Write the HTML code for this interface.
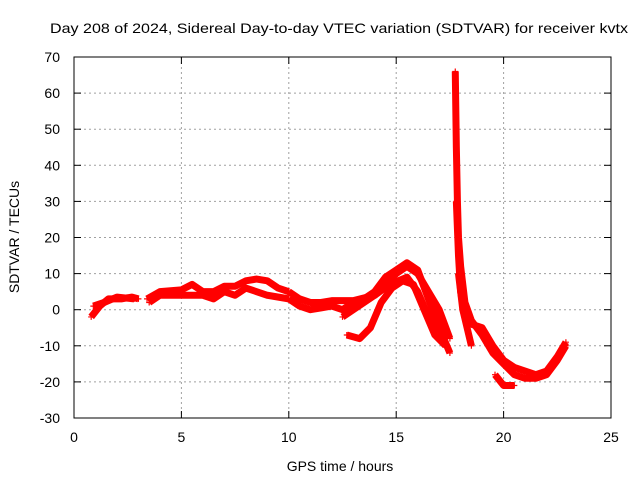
<!DOCTYPE html>
<html><head><meta charset="utf-8"><style>
body{margin:0;background:#fff}
svg text{font-family:"Liberation Sans",sans-serif;font-size:14px;fill:#000}
</style></head><body>
<svg id="c" width="640" height="480">
<text x="50" y="33" textLength="578" lengthAdjust="spacingAndGlyphs">Day 208 of 2024, Sidereal Day-to-day VTEC variation (SDTVAR) for receiver kvtx</text>
<text x="340" y="471" text-anchor="middle">GPS time / hours</text>
<text transform="translate(19,237) rotate(-90)" text-anchor="middle">SDTVAR / TECUs</text>
<g id="grid"></g><g id="marks"></g>
<rect x="74" y="57" width="537" height="361" fill="none" stroke="#000"/>
</svg>
<script>
const xTicks=[0,5,10,15,20,25];
const yTicks=[-30,-20,-10,0,10,20,30,40,50,60,70];
const t1=[0.8,1.2,1.6,2.2,2.7,3.0], v1=[-2,1,3,3,3.5,3];
const t2=[0.9,1.4,2,2.8], v2=[1,2,3.5,3];
const t3=[3.4,4,5,5.5,6,6.5,7,7.5,8,8.5,9,9.5,10], v3=[3,5,5.5,7,5,5,6.5,6.5,8,8.5,8,6,5];
const t4=[3.5,4,5,6,6.5,7,7.5,8,8.5,9,10], v4=[2,4,4,4,3,5,4,6,5,4,3];
const t5=[10,10.5,11,11.5,12,13,14,14.5,15,15.5,16,16.5,17,17.5], v5=[5,3,2,2,2.5,2.5,4,7,10,12,10,5,0,-8];
const t6=[10,10.5,11,11.5,12,12.5,13,13.5,14,14.5,15,15.5,16,16.5,17,17.5], v6=[3,1,0,0.5,1,0,2,3,5,9,11,13,11,3,-5,-12];
const t7=[12.7,13.3,13.8,14.3,14.8,15.3,15.8,16.3,16.8,17.3], v7=[-7,-8,-5,2,6,8,7,0,-7,-10];
const t8=[12.5,13,13.5,14,14.7,15.5,16,16.5,17], v8=[-2,0,2,4,7,9,5,-2,-6];
const t9=[17.75,17.8,17.85,17.9,18,18.2,18.5,19,19.5,20,20.5,21,21.5,22,22.5,22.9], v9=[66,45,30,20,12,2,-3,-7,-12,-15,-18,-19,-19,-18,-14,-10];
const t10=[17.8,17.9,18,18.2,18.5,19,19.5,20,20.5,21,21.5,22,22.5,22.9], v10=[30,15,5,-2,-4,-5,-10,-14,-16,-17,-18,-17,-13,-9];
const t11=[19.6,20,20.5], v11=[-18,-21,-21];
const t12=[17.9,18.1,18.3,18.5], v12=[10,0,-5,-10];
const series=[[t1,v1],[t2,v2],[t3,v3],[t4,v4],[t5,v5],[t6,v6],[t7,v7],[t8,v8],[t9,v9],[t10,v10],[t11,v11],[t12,v12]];
const X=h=>74+h*537/25, Y=v=>418-(v+30)*361/100;
const NS="http://www.w3.org/2000/svg";
const grid=document.getElementById('grid'), marks=document.getElementById('marks');
function mk(tag,attrs,parent){const e=document.createElementNS(NS,tag);for(const k in attrs)e.setAttribute(k,attrs[k]);parent.appendChild(e);return e;}
xTicks.forEach(t=>{const x=X(t);
 if(t>0&&t<25){const g=mk('line',{x1:x,x2:x,y1:57,y2:418,stroke:'#a0a0a0','stroke-dasharray':'2,3'},grid);
 
 }
 mk('line',{x1:x,x2:x,y1:418,y2:411,stroke:'#000'},grid);mk('line',{x1:x,x2:x,y1:57,y2:64,stroke:'#000'},grid);
 const l=mk('text',{x:x,y:442,'text-anchor':'middle'},grid);l.textContent=t;
 
 });
yTicks.forEach(t=>{const y=Y(t);
 if(t>-30&&t<70){const g=mk('line',{x1:74,x2:611,y1:y,y2:y,stroke:'#a0a0a0','stroke-dasharray':'2,3'},grid);
 
 }
 mk('line',{x1:74,x2:81,y1:y,y2:y,stroke:'#000'},grid);mk('line',{x1:611,x2:604,y1:y,y2:y,stroke:'#000'},grid);
 const l=mk('text',{x:60,y:y+5,'text-anchor':'end'},grid);l.textContent=t;
 
 });
series.forEach((s,i)=>{const [ts,vs]=s;
 const p=mk('polyline',{points:ts.map((t,j)=>X(t)+','+Y(vs[j])).join(' '),fill:'none',stroke:'#f00','stroke-width':7,'stroke-linejoin':'round'},marks);
 
 
 ts.forEach((t,j)=>{const x=X(t),y=Y(vs[j]);
  const m=mk('path',{d:`M${x-3},${y}h6M${x},${y-3}v6`,stroke:'#f00','stroke-width':1.2},marks);
  
  });});
</script>
</body></html>
